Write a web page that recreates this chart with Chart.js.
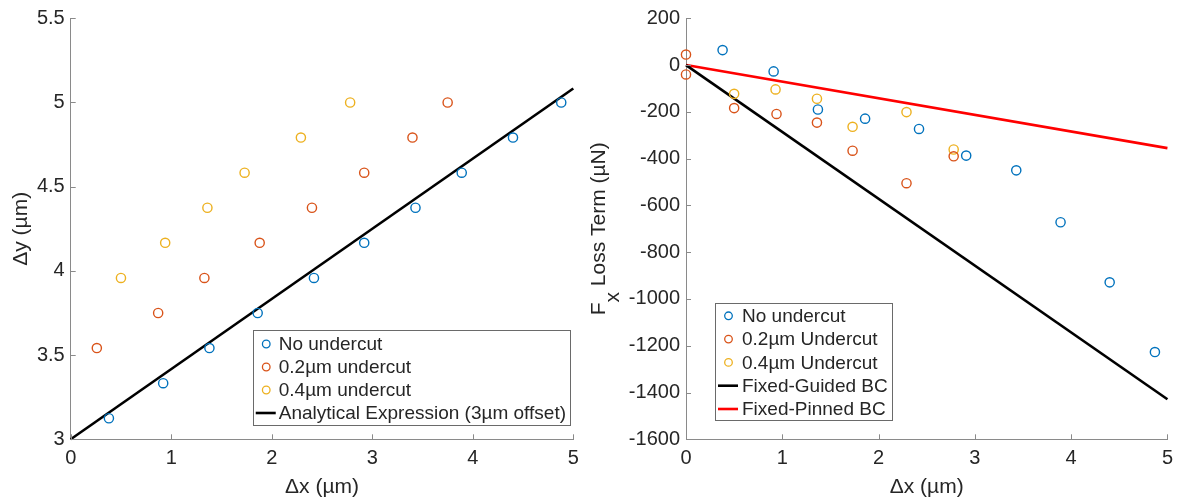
<!DOCTYPE html>
<html>
<head>
<meta charset="utf-8">
<script src="https://cdn.jsdelivr.net/npm/chart.js@4.4.0/dist/chart.umd.min.js"></script>
<style>
  body { margin: 0; background: #fff; }
  canvas { position: absolute; top: 0; }
  #leftChart { left: 0; }
  #rightChart { left: 590px; }
</style>
</head>
<body>
<canvas id="leftChart" width="590" height="502"></canvas>
<canvas id="rightChart" width="590" height="502"></canvas>
<script>
// Δy vs Δx for the three undercut cases
let dyNoX = [0.38, 0.92, 1.38, 1.86, 2.42, 2.92, 3.43, 3.89, 4.40, 4.88];
let dyNoY = [3.125, 3.333, 3.542, 3.75, 3.958, 4.167, 4.375, 4.583, 4.792, 5.0];
let dy02X = [0.26, 0.87, 1.33, 1.88, 2.40, 2.92, 3.40, 3.75];
let dy02Y = [3.542, 3.75, 3.958, 4.167, 4.375, 4.583, 4.792, 5.0];
let dy04X = [0.50, 0.94, 1.36, 1.73, 2.29, 2.78];
let dy04Y = [3.958, 4.167, 4.375, 4.583, 4.792, 5.0];
let analyticX = [0, 5];
let analyticY = [3, 5.083];

// Fx loss term vs Δx
let fxNoX = [0.38, 0.91, 1.37, 1.86, 2.42, 2.91, 3.43, 3.89, 4.40, 4.87];
let fxNoY = [64, -27, -190, -229, -273, -387, -450, -672, -929, -1227];
let fx02X = [0, 0, 0.50, 0.94, 1.36, 1.73, 2.29, 2.78];
let fx02Y = [45, -40, -184, -209, -246, -366, -505, -390];
let fx04X = [0.50, 0.93, 1.36, 1.73, 2.29, 2.78];
let fx04Y = [-123, -104, -144, -264, -201, -361];
let guidedX = [0, 5];
let guidedY = [0, -1429];
let pinnedX = [0, 5];
let pinnedY = [0, -355];

let leftYTicks = [3, 5.5, 0.5];      // min, max, step
let rightYTicks = [-1600, 200, 200];
let xTicks = [0, 5, 1];

let blue = '#0072BD', orange = '#D95319', yellow = '#EDB120';
let textColor = '#262626', axisColor = '#8a8a8a';
let fontFamily = '"Liberation Sans", Arial, Helvetica, sans-serif';

let toPoints = (xs, ys) => xs.map((x, i) => ({ x: x, y: ys[i] }));

let markers = (label, xs, ys, color) => ({
    label: label,
    data: toPoints(xs, ys),
    borderColor: color,
    backgroundColor: 'rgba(0,0,0,0)',
    pointRadius: 4.6,
    pointHoverRadius: 4.6,
    pointBorderWidth: 1.4,
    showLine: false,
    clip: false
});

let straight = (label, xs, ys, color) => ({
    label: label,
    data: toPoints(xs, ys),
    borderColor: color,
    borderWidth: 2.6,
    pointRadius: 0,
    showLine: true,
    clip: false
});

// MATLAB-ish axes: inward ticks, boxed legend, axis titles
let matlabAxes = {
    id: 'matlabAxes',
    afterDraw(chart, args, opts) {
        let ctx = chart.ctx, area = chart.chartArea;
        let xs = chart.scales.x, ys = chart.scales.y;
        ctx.save();

        ctx.strokeStyle = axisColor;
        ctx.lineWidth = 1;
        ctx.beginPath();
        xs.ticks.forEach(t => {
            let px = Math.round(xs.getPixelForValue(t.value)) + 0.5;
            ctx.moveTo(px, area.bottom);
            ctx.lineTo(px, area.bottom - 5);
        });
        ys.ticks.forEach(t => {
            let py = Math.round(ys.getPixelForValue(t.value)) + 0.5;
            ctx.moveTo(area.left, py);
            ctx.lineTo(area.left + 5, py);
        });
        ctx.stroke();

        // axis titles
        ctx.fillStyle = textColor;
        ctx.font = '21px ' + fontFamily;
        ctx.textBaseline = 'alphabetic';
        ctx.textAlign = 'center';
        ctx.fillText(opts.xTitle, (area.left + area.right) / 2, 493);

        let cy = (area.top + area.bottom) / 2;
        ctx.save();
        ctx.translate(opts.yTitleX, cy);
        ctx.rotate(-Math.PI / 2);
        ctx.textAlign = 'left';
        let parts = opts.yTitle;
        let total = parts.reduce((w, p) => w + ctx.measureText(p.text).width, 0);
        let pos = -total / 2;
        parts.forEach(p => {
            ctx.fillText(p.text, pos, p.sub ? 14 : 0);
            pos += ctx.measureText(p.text).width;
        });
        ctx.restore();

        // legend box
        let lg = opts.legend;
        ctx.font = '19px ' + fontFamily;
        let sets = chart.data.datasets;
        let textW = Math.max(...sets.map(d => ctx.measureText(d.label).width));
        let boxW = lg.textOffset + textW + 4;
        let boxH = lg.pad * 2 + lg.row * (sets.length - 1) - 2;
        let bx = lg.right !== undefined ? lg.right - boxW : lg.left;
        let by = lg.bottom - boxH;
        ctx.fillStyle = '#fff';
        ctx.fillRect(bx, by, boxW, boxH);
        ctx.strokeStyle = '#6a6a6a';
        ctx.lineWidth = 1;
        ctx.strokeRect(Math.round(bx) + 0.5, Math.round(by) + 0.5, Math.round(boxW), Math.round(boxH));
        ctx.textAlign = 'left';
        ctx.textBaseline = 'middle';
        sets.forEach((d, i) => {
            let ry = by + lg.pad + i * lg.row;
            if (d.showLine) {
                ctx.strokeStyle = d.borderColor;
                ctx.lineWidth = 2.6;
                ctx.beginPath();
                ctx.moveTo(bx + 3, ry);
                ctx.lineTo(bx + 23, ry);
                ctx.stroke();
            } else {
                ctx.strokeStyle = d.borderColor;
                ctx.lineWidth = 1.3;
                ctx.beginPath();
                ctx.arc(bx + 13.5, ry, 3.8, 0, Math.PI * 2);
                ctx.stroke();
            }
            ctx.fillStyle = textColor;
            ctx.fillText(d.label, bx + lg.textOffset, ry + 1);
        });

        ctx.restore();
    }
};

let scalesFor = (yRange, yWidth) => ({
    x: {
        type: 'linear',
        min: xTicks[0], max: xTicks[1],
        afterFit: s => { s.height = 62.7; },
        ticks: { stepSize: xTicks[2], padding: 7, color: textColor, maxRotation: 0,
                 font: { family: fontFamily, size: 20 } },
        grid: { display: false, drawTicks: false },
        border: { display: true, color: axisColor, width: 1 }
    },
    y: {
        type: 'linear',
        min: yRange[0], max: yRange[1],
        afterFit: s => { s.width = yWidth; },
        ticks: { stepSize: yRange[2], padding: 6, color: textColor,
                 font: { family: fontFamily, size: 20 },
                 callback: v => String(v) },
        grid: { display: false, drawTicks: false },
        border: { display: true, color: axisColor, width: 1 }
    }
});

let leftChart = new Chart(document.getElementById('leftChart'), {
    type: 'scatter',
    data: {
        datasets: [
            markers('No undercut', dyNoX, dyNoY, blue),
            markers('0.2µm undercut', dy02X, dy02Y, orange),
            markers('0.4µm undercut', dy04X, dy04Y, yellow),
            straight('Analytical Expression (3µm offset)', analyticX, analyticY, '#000')
        ]
    },
    options: {
        responsive: false,
        animation: false,
        layout: { padding: { left: 0, top: 18.3, right: 16.7, bottom: 0 } },
        scales: scalesFor(leftYTicks, 70.7),
        plugins: {
            legend: { display: false },
            tooltip: { enabled: false },
            matlabAxes: {
                xTitle: 'Δx (µm)',
                yTitle: [{ text: 'Δy (µm)' }],
                yTitleX: 27,
                legend: { right: 570, bottom: 425, row: 23, pad: 14, textOffset: 26 }
            }
        }
    },
    plugins: [matlabAxes]
});

let rightChart = new Chart(document.getElementById('rightChart'), {
    type: 'scatter',
    data: {
        datasets: [
            markers('No undercut', fxNoX, fxNoY, blue),
            markers('0.2µm Undercut', fx02X, fx02Y, orange),
            markers('0.4µm Undercut', fx04X, fx04Y, yellow),
            straight('Fixed-Guided BC', guidedX, guidedY, '#000'),
            straight('Fixed-Pinned BC', pinnedX, pinnedY, '#ff0000')
        ]
    },
    options: {
        responsive: false,
        animation: false,
        layout: { padding: { left: 0, top: 18.3, right: 9.7, bottom: 0 } },
        scales: scalesFor(rightYTicks, 96),
        plugins: {
            legend: { display: false },
            tooltip: { enabled: false },
            matlabAxes: {
                xTitle: 'Δx (µm)',
                yTitle: [{ text: 'F' }, { text: 'x', sub: true }, { text: ' Loss Term (µN)' }],
                yTitleX: 15,
                legend: { left: 125, bottom: 420, row: 23.3, pad: 13, textOffset: 27 }
            }
        }
    },
    plugins: [matlabAxes]
});
</script>
</body>
</html>
